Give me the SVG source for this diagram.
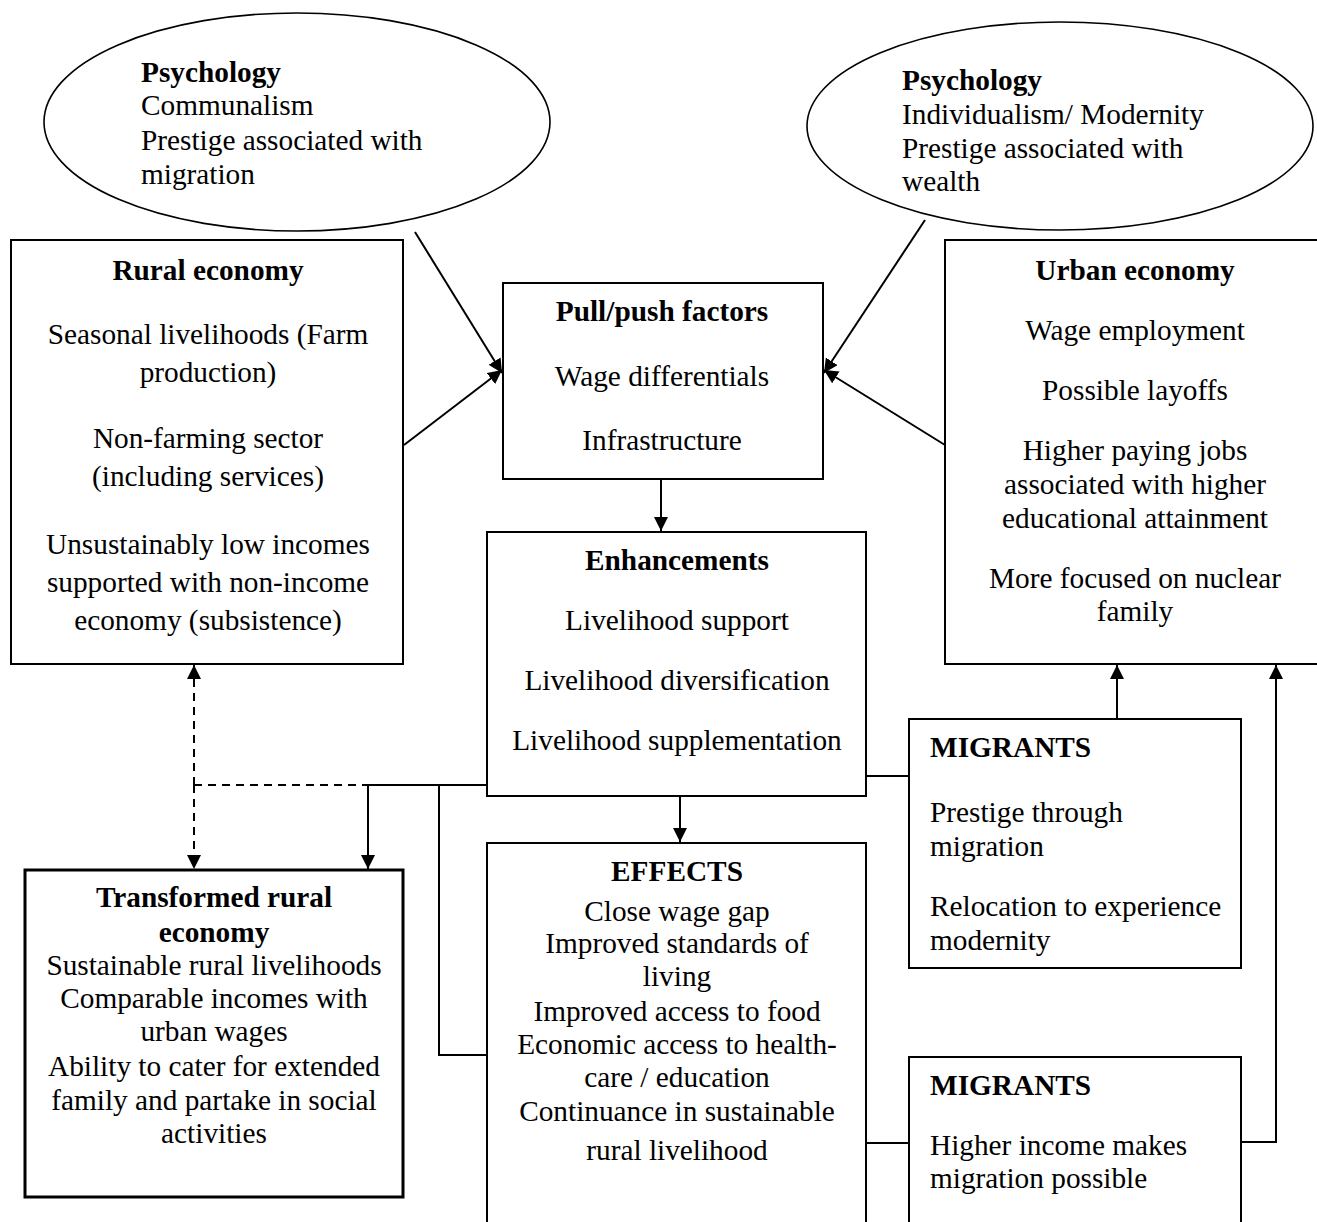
<svg xmlns="http://www.w3.org/2000/svg" width="1317" height="1222" viewBox="0 0 1317 1222">
<defs>
<style>
.b{fill:#fff;stroke:#000;stroke-width:2}
.e{fill:#fff;stroke:#000;stroke-width:1.6}
.t{font-family:"Liberation Serif","Times New Roman",serif;font-size:29.3px;fill:#000}
.c{text-anchor:middle}
.h{font-weight:bold}
.l{fill:none;stroke:#000;stroke-width:2}
.d{fill:none;stroke:#000;stroke-width:2;stroke-dasharray:8,6}
</style>
<marker id="ah" viewBox="0 0 14 14" refX="14" refY="7" markerWidth="14" markerHeight="14" markerUnits="userSpaceOnUse" orient="auto">
<path d="M0,0 L14,7 L0,14 Z" fill="#000"/>
</marker>
</defs>
<rect width="1317" height="1222" fill="#fff"/>
<g id="connectors">
<line class="l" x1="415" y1="232" x2="502" y2="373" marker-end="url(#ah)"/>
<line class="l" x1="404" y1="445" x2="502" y2="370" marker-end="url(#ah)"/>
<line class="l" x1="925" y1="220" x2="824" y2="373" marker-end="url(#ah)"/>
<line class="l" x1="945" y1="445" x2="824" y2="370" marker-end="url(#ah)"/>
<line class="l" x1="661" y1="479" x2="661" y2="531" marker-end="url(#ah)"/>
<line class="l" x1="680" y1="796" x2="680" y2="842" marker-end="url(#ah)"/>
<line class="d" x1="194" y1="785" x2="194" y2="665" marker-end="url(#ah)"/>
<line class="d" x1="194" y1="785" x2="194" y2="869" marker-end="url(#ah)"/>
<line class="d" x1="194" y1="785" x2="368" y2="785"/>
<line class="l" x1="368" y1="785" x2="487" y2="785"/>
<line class="l" x1="368" y1="785" x2="368" y2="869" marker-end="url(#ah)"/>
<polyline class="l" points="439,785 439,1055 487,1055"/>
<line class="l" x1="866" y1="776" x2="909" y2="776"/>
<line class="l" x1="1117" y1="719" x2="1117" y2="665" marker-end="url(#ah)"/>
<polyline class="l" points="1241,1142 1276,1142 1276,665" marker-end="url(#ah)"/>
<line class="l" x1="866" y1="1143" x2="909" y2="1143"/>
</g>
<g id="psych-left">
<ellipse class="e" cx="297" cy="122" rx="253" ry="109"/>
<text class="t h" x="141" y="82">Psychology</text>
<text class="t" x="141" y="115">Communalism</text>
<text class="t" x="141" y="150">Prestige associated with</text>
<text class="t" x="141" y="184">migration</text>
</g>
<g id="psych-right">
<ellipse class="e" cx="1060" cy="126" rx="253" ry="104"/>
<text class="t h" x="902" y="90">Psychology</text>
<text class="t" x="902" y="124">Individualism/ Modernity</text>
<text class="t" x="902" y="158">Prestige associated with</text>
<text class="t" x="902" y="191">wealth</text>
</g>
<g id="rural">
<rect class="b" x="11" y="240" width="392" height="424"/>
<text class="t c h" x="208" y="280">Rural economy</text>
<text class="t c" x="208" y="344">Seasonal livelihoods (Farm</text>
<text class="t c" x="208" y="382">production)</text>
<text class="t c" x="208" y="448">Non-farming sector</text>
<text class="t c" x="208" y="486">(including services)</text>
<text class="t c" x="208" y="554">Unsustainably low incomes</text>
<text class="t c" x="208" y="592">supported with non-income</text>
<text class="t c" x="208" y="630">economy (subsistence)</text>
</g>
<g id="pullpush">
<rect class="b" x="503" y="283" width="320" height="196"/>
<text class="t c h" x="662" y="321">Pull/push factors</text>
<text class="t c" x="662" y="386">Wage differentials</text>
<text class="t c" x="662" y="450">Infrastructure</text>
</g>
<g id="urban">
<rect class="b" x="945" y="240" width="380" height="424"/>
<text class="t c h" x="1135" y="280">Urban economy</text>
<text class="t c" x="1135" y="340">Wage employment</text>
<text class="t c" x="1135" y="400">Possible layoffs</text>
<text class="t c" x="1135" y="460">Higher paying jobs</text>
<text class="t c" x="1135" y="494">associated with higher</text>
<text class="t c" x="1135" y="528">educational attainment</text>
<text class="t c" x="1135" y="588">More focused on nuclear</text>
<text class="t c" x="1135" y="621">family</text>
</g>
<g id="enhancements">
<rect class="b" x="487" y="532" width="379" height="264"/>
<text class="t c h" x="677" y="570">Enhancements</text>
<text class="t c" x="677" y="630">Livelihood support</text>
<text class="t c" x="677" y="690">Livelihood diversification</text>
<text class="t c" x="677" y="750">Livelihood supplementation</text>
</g>
<g id="migrants1">
<rect class="b" x="909" y="719" width="332" height="249"/>
<text class="t h" x="930" y="757">MIGRANTS</text>
<text class="t" x="930" y="822">Prestige through</text>
<text class="t" x="930" y="856">migration</text>
<text class="t" x="930" y="916">Relocation to experience</text>
<text class="t" x="930" y="950">modernity</text>
</g>
<g id="effects">
<rect class="b" x="487" y="843" width="379" height="400"/>
<text class="t c h" x="677" y="881">EFFECTS</text>
<text class="t c" x="677" y="921">Close wage gap</text>
<text class="t c" x="677" y="953">Improved standards of</text>
<text class="t c" x="677" y="986">living</text>
<text class="t c" x="677" y="1021">Improved access to food</text>
<text class="t c" x="677" y="1054">Economic access to health-</text>
<text class="t c" x="677" y="1087">care / education</text>
<text class="t c" x="677" y="1121">Continuance in sustainable</text>
<text class="t c" x="677" y="1160">rural livelihood</text>
</g>
<g id="transformed">
<rect class="b" x="25" y="870" width="378" height="327" style="stroke-width:3"/>
<text class="t c h" x="214" y="907">Transformed rural</text>
<text class="t c h" x="214" y="942">economy</text>
<text class="t c" x="214" y="975">Sustainable rural livelihoods</text>
<text class="t c" x="214" y="1008">Comparable incomes with</text>
<text class="t c" x="214" y="1041">urban wages</text>
<text class="t c" x="214" y="1076">Ability to cater for extended</text>
<text class="t c" x="214" y="1110">family and partake in social</text>
<text class="t c" x="214" y="1143">activities</text>
</g>
<g id="migrants2">
<rect class="b" x="909" y="1057" width="332" height="200"/>
<text class="t h" x="930" y="1095">MIGRANTS</text>
<text class="t" x="930" y="1155">Higher income makes</text>
<text class="t" x="930" y="1188">migration possible</text>
</g>
</svg>
